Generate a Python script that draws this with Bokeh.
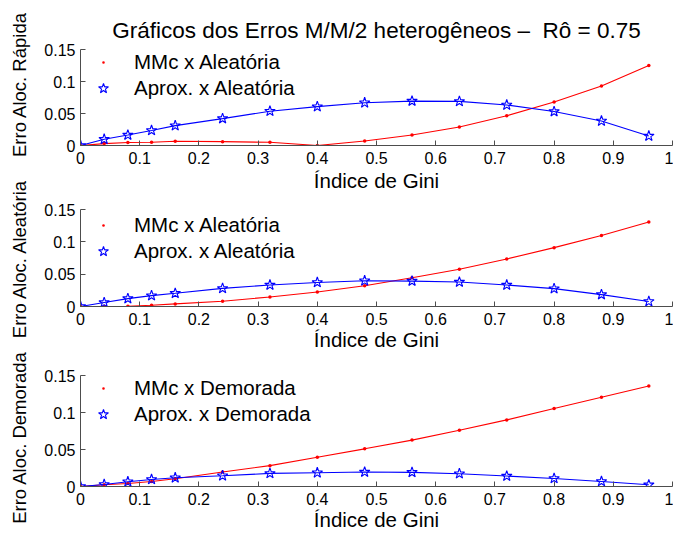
from math import pi
from bokeh.plotting import figure
from bokeh.models import Range1d, FixedTicker, Legend, LegendItem, Label
from bokeh.layouts import row, column
from bokeh.embed import file_html
from bokeh.resources import INLINE

# ---------------- data ----------------
gini = [0, 0.04, 0.08, 0.12, 0.16, 0.24, 0.32, 0.40, 0.48, 0.56, 0.64, 0.72, 0.80, 0.88, 0.96]

rapida_mmc = [0, 0.003, 0.0046, 0.005, 0.0066, 0.006, 0.005, 0.0, 0.0071, 0.0163, 0.029, 0.0464, 0.0679, 0.0929, 0.125]
rapida_aprox = [0, 0.0097, 0.0163, 0.0235, 0.031, 0.042, 0.0536, 0.0607, 0.0668, 0.0694, 0.0689, 0.0633, 0.053, 0.0383, 0.0148]

aleat_mmc = [0, 0.0, 0.0005, 0.002, 0.004, 0.0082, 0.0148, 0.0224, 0.0321, 0.0444, 0.0577, 0.0735, 0.091, 0.1097, 0.1306]
aleat_aprox = [0, 0.0061, 0.0122, 0.0168, 0.0204, 0.028, 0.0332, 0.0372, 0.0398, 0.0393, 0.0378, 0.0332, 0.0276, 0.0184, 0.0077]

demor_mmc = [0, 0.0023, 0.0041, 0.0068, 0.0105, 0.0195, 0.0282, 0.0395, 0.0509, 0.0627, 0.0759, 0.09, 0.1055, 0.1205, 0.1359]
demor_aprox = [0, 0.0027, 0.0064, 0.0095, 0.0118, 0.0145, 0.0177, 0.0186, 0.0195, 0.0191, 0.0173, 0.0141, 0.0109, 0.0068, 0.0023]

x_ticks = [0, 0.1, 0.2, 0.3, 0.4, 0.5, 0.6, 0.7, 0.8, 0.9, 1]
x_tick_labels = ["0", "0.1", "0.2", "0.3", "0.4", "0.5", "0.6", "0.7", "0.8", "0.9", "1"]
y_ticks = [0, 0.05, 0.1, 0.15]
y_tick_labels = ["0", "0.05", "0.1", "0.15"]

title_text = "Gráficos dos Erros M/M/2 heterogêneos \u2013 \u00a0Rô = 0.75"
x_label = "Índice de Gini"
y_labels = ["Erro Aloc. Rápida", "Erro Aloc. Aleatória", "Erro Aloc. Demorada"]
legend_labels = [
    ["MMc x Aleatória", "Aprox. x Aleatória"],
    ["MMc x Aleatória", "Aprox. x Aleatória"],
    ["MMc x Demorada", "Aprox. x Demorada"],
]

FONT = "Liberation Sans"
AXIS_COLOR = "#4d4d4d"


def make_panel(mmc, aprox, labels, frame_h, top, bottom, title=None, leg_margin=0, xlab_standoff=0):
    p = figure(frame_width=592, frame_height=frame_h,
               min_border_left=40, min_border_right=1,
               min_border_top=top, min_border_bottom=bottom,
               x_range=Range1d(0, 1), y_range=Range1d(0, 0.15),
               output_backend="svg", toolbar_location=None, title=title)
    p.outline_line_color = None
    p.xgrid.visible = False
    p.ygrid.visible = False
    p.background_fill_color = "white"
    p.border_fill_color = "white"

    if title is not None:
        p.title.text_font = FONT
        p.title.text_font_size = "22.5px"
        p.title.text_font_style = "normal"
        p.title.align = "center"
        p.title.text_color = "black"
        p.title.standoff = 13

    for ax in (p.xaxis[0], p.yaxis[0]):
        ax.axis_line_color = AXIS_COLOR
        ax.major_tick_line_color = AXIS_COLOR
        ax.major_tick_in = 5
        ax.major_tick_out = 0
        ax.minor_tick_line_color = None
        ax.major_label_text_font = FONT
        ax.major_label_text_font_size = "16px"
        ax.major_label_text_color = "black"
        ax.axis_label_text_font = FONT
        ax.axis_label_text_font_style = "normal"
        ax.axis_label_text_color = "black"

    p.xaxis.ticker = FixedTicker(ticks=x_ticks)
    p.xaxis.major_label_overrides = dict(zip(x_ticks, x_tick_labels))
    p.xaxis.major_label_standoff = 6
    p.xaxis.axis_label = x_label
    p.xaxis.axis_label_text_font_size = "20.5px"
    p.xaxis.axis_label_standoff = xlab_standoff

    p.yaxis.ticker = FixedTicker(ticks=y_ticks)
    p.yaxis.major_label_overrides = dict(zip(y_ticks, y_tick_labels))
    p.yaxis.major_label_standoff = 5

    p.line(gini, mmc, line_color="red", line_width=1.1)
    r_dots = p.scatter(gini, mmc, marker="dot", size=14, line_color="red", fill_color="red")
    p.line(gini, aprox, line_color="blue", line_width=1.1)
    b_stars = p.scatter(gini, aprox, marker="star", size=11, line_color="blue",
                        fill_color=None, line_width=1.1)

    legend = Legend(items=[LegendItem(label=labels[0], renderers=[r_dots]),
                           LegendItem(label=labels[1], renderers=[b_stars])],
                    location="top_left", margin=leg_margin, padding=0, spacing=0,
                    glyph_width=46 - 2 * leg_margin, glyph_height=26,
                    label_standoff=8 + leg_margin, label_height=20,
                    label_text_font=FONT, label_text_font_size="20.5px",
                    label_text_color="black",
                    border_line_color=None, background_fill_alpha=0)
    p.add_layout(legend)
    return p


f1 = make_panel(rapida_mmc, rapida_aprox, legend_labels[0], 96, 49, 50,
                title=title_text, leg_margin=0, xlab_standoff=2)
f2 = make_panel(aleat_mmc, aleat_aprox, legend_labels[1], 97, 14, 54,
                leg_margin=3, xlab_standoff=0)
f3 = make_panel(demor_mmc, demor_aprox, legend_labels[2], 111, 15, 47,
                leg_margin=0, xlab_standoff=0)

# left strip carrying the y-axis titles (they overlap the neighbouring panels)
lab = figure(width=40, height=533, x_range=Range1d(0, 40), y_range=Range1d(533, 0),
             min_border=0, output_backend="svg", toolbar_location=None,
             x_axis_location=None, y_axis_location=None)
lab.outline_line_color = None
lab.xgrid.visible = False
lab.ygrid.visible = False
for text, yc in zip(y_labels, [84, 258, 437]):
    lab.add_layout(Label(x=19, y=yc, text=text, angle=pi / 2,
                         text_align="center", text_baseline="middle",
                         text_font=FONT, text_font_size="18.5px", text_color="black"))

layout = row(lab, column(f1, f2, f3))
open("out.html", "w").write(file_html(layout, INLINE))
